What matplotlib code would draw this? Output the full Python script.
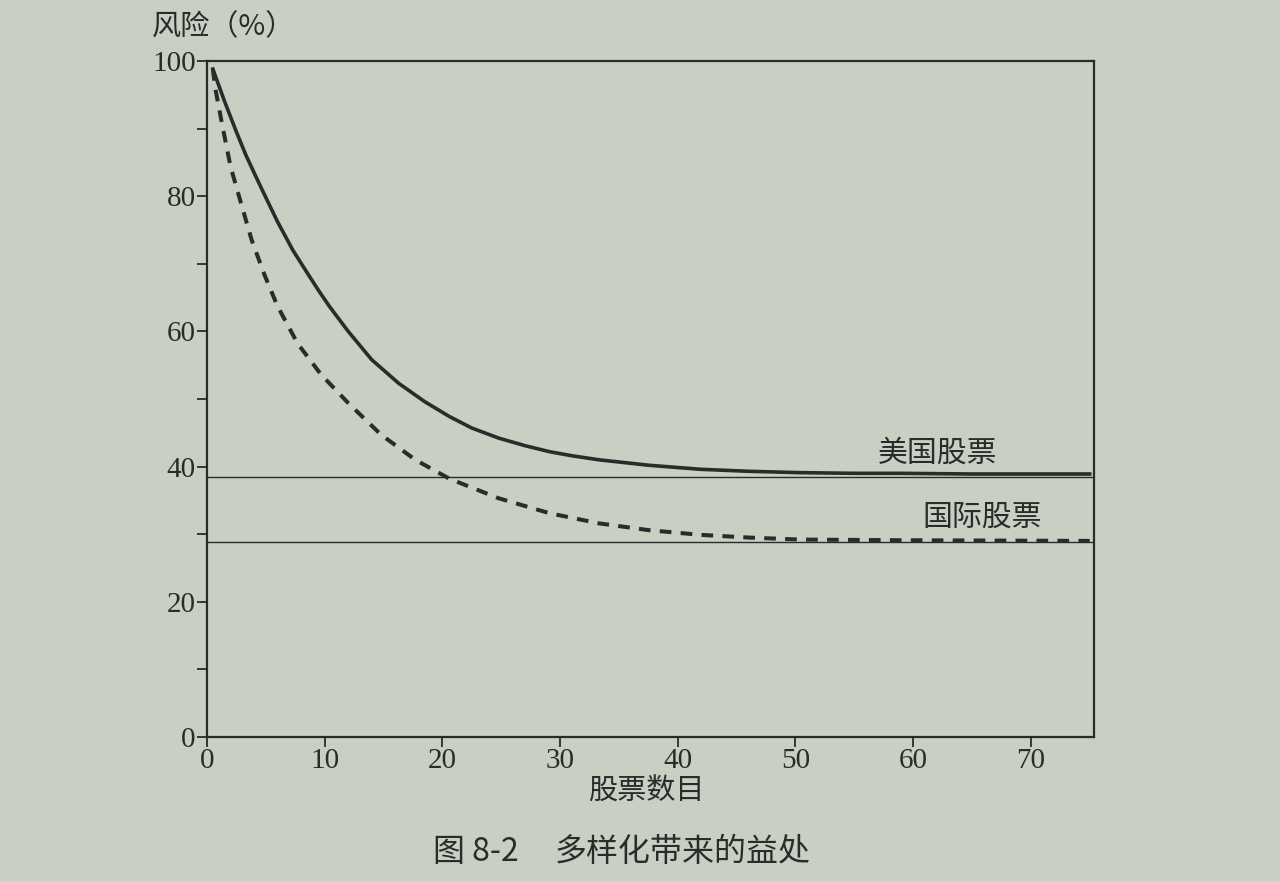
import matplotlib
matplotlib.use('Agg')
import matplotlib.pyplot as plt
from matplotlib.ticker import MultipleLocator

plt.rcParams['font.family'] = ['Noto Sans CJK SC', 'DejaVu Sans']

# risk (%) against number of stocks
us_n = [0.5, 1.5, 2.5, 3.3, 4.1, 5.0, 6.0, 7.3, 8.5, 9.5, 10.4, 12.0, 14.0, 16.3,
        18.5, 20.6, 22.5, 24.8, 27.0, 29.1, 31.0, 33.3, 37.5, 41.9, 46.0, 50.4,
        55.0, 58.9, 65.0, 75.0]
us_risk = [98.8, 94.0, 89.5, 86.1, 83.1, 79.8, 76.2, 72.0, 68.7, 66.0, 63.7, 60.0,
           55.8, 52.3, 49.6, 47.4, 45.7, 44.2, 43.1, 42.2, 41.6, 41.0, 40.2, 39.6,
           39.3, 39.1, 39.0, 39.0, 38.9, 38.9]

intl_n = [0.5, 0.7, 1.3, 2.0, 2.9, 3.8, 4.9, 6.0, 7.7, 9.7, 12.0, 14.8, 17.7, 20.6,
          24.8, 29.1, 33.3, 37.5, 41.9, 46.0, 50.4, 58.9, 75.0]
intl_risk = [98.8, 96.0, 90.5, 84.4, 78.9, 73.5, 68.3, 63.7, 58.2, 53.6, 49.4, 44.7,
             41.0, 38.2, 35.3, 33.1, 31.6, 30.6, 29.9, 29.5, 29.2, 29.1, 29.0]

us_floor = 38.5
intl_floor = 28.8

x_ticks = [0, 10, 20, 30, 40, 50, 60, 70]
y_ticks = [0, 20, 40, 60, 80, 100]

paper = '#c8cfc3'
ink = '#2b2b2b'
serif = ['Liberation Serif', 'DejaVu Serif']

fig = plt.figure(figsize=(12.8, 8.81), dpi=100, facecolor=paper)
ax = fig.add_axes([0.1617, 0.1635, 0.6933, 0.7673])
ax.set_facecolor(paper)

ax.axhline(us_floor, color=ink, lw=1.0)
ax.axhline(intl_floor, color=ink, lw=1.0)
ax.plot(us_n, us_risk, color=ink, lw=2.6, solid_joinstyle='round')
ax.plot(intl_n, intl_risk, color=ink, lw=2.9, ls=(0, (2.9, 2.3)))

ax.text(62.1, 42.0, '美国股票', fontsize=21.5, color=ink, ha='center', va='center')
ax.text(65.9, 32.5, '国际股票', fontsize=21.5, color=ink, ha='center', va='center')

ax.set_xlim(0, 75.4)
ax.set_ylim(0, 100)
ax.set_xticks(x_ticks)
ax.set_yticks(y_ticks)
ax.yaxis.set_minor_locator(MultipleLocator(10))
ax.tick_params(which='both', direction='out', length=7, width=1.3, color=ink,
               labelsize=21, labelcolor=ink, pad=1)
for lab in ax.get_xticklabels() + ax.get_yticklabels():
    lab.set_family(serif)
for sp in ax.spines.values():
    sp.set_color(ink)
    sp.set_linewidth(1.6)

fig.text(152 / 1280, 1 - 27 / 881, '风险（%）', fontsize=21, color=ink, ha='left', va='center')
fig.text(646 / 1280, 1 - 792 / 881, '股票数目', fontsize=21, color=ink, ha='center', va='center')
fig.text(433 / 1280, 1 - 852 / 881, '图 8-2', fontsize=23, color=ink, ha='left', va='center')
fig.text(555 / 1280, 1 - 852 / 881, '多样化带来的益处', fontsize=23, color=ink,
         ha='left', va='center')

fig.savefig('out.png', dpi=100, facecolor=paper)
